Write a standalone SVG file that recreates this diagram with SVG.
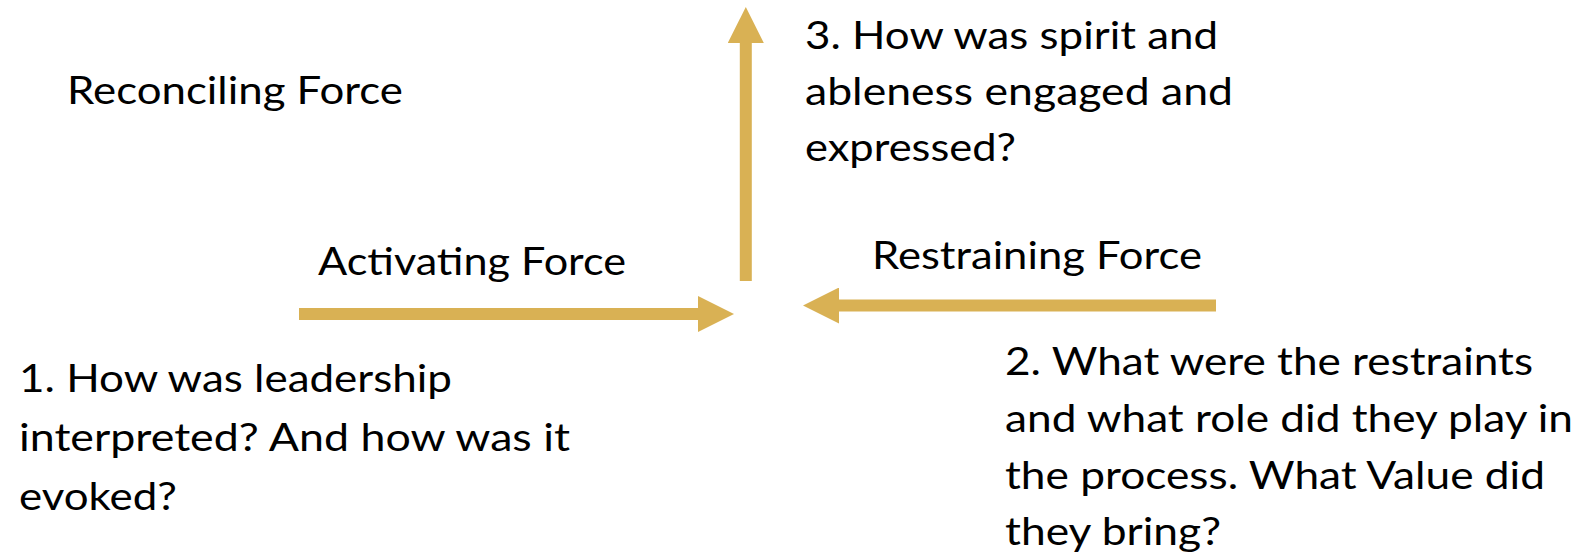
<svg xmlns="http://www.w3.org/2000/svg" width="1589" height="555" viewBox="0 0 1589 555">
  <style>
    .lbl { font-family: Lato, "Open Sans", "Liberation Sans", sans-serif; font-size: 39.5px; fill: #000000; }
    .force { fill: none; stroke: #D9B154; stroke-width: 12; stroke-linecap: butt; }
  </style>
  <defs>
    <marker id="head" viewBox="0 0 36 36" refX="0" refY="18" markerWidth="36" markerHeight="36" markerUnits="userSpaceOnUse" orient="auto">
      <path d="M0,0 L36,18 L0,36 Z" fill="#D9B154"/>
    </marker>
  </defs>
  <rect width="1589" height="555" fill="#ffffff"/>

  <!-- force arrows -->
  <g id="connectors">
    <line class="force" x1="299" y1="314" x2="698" y2="314" marker-end="url(#head)"/>
    <line class="force" x1="1216" y1="305.5" x2="839" y2="305.5" marker-end="url(#head)"/>
    <line class="force" x1="745.8" y1="281" x2="745.8" y2="43" marker-end="url(#head)"/>
  </g>

  <g id="reconciling-label">
    <text class="lbl" x="67" y="104" textLength="336" lengthAdjust="spacingAndGlyphs">Reconciling Force</text>
  </g>
  <g id="activating-label">
    <text class="lbl" x="318" y="275" textLength="308" lengthAdjust="spacingAndGlyphs">Activating Force</text>
  </g>
  <g id="restraining-label">
    <text class="lbl" x="872" y="269" textLength="330" lengthAdjust="spacingAndGlyphs">Restraining Force</text>
  </g>

  <g id="question-1">
    <text class="lbl" x="19" y="392" textLength="433" lengthAdjust="spacingAndGlyphs">1. How was leadership</text>
    <text class="lbl" x="19" y="451" textLength="551" lengthAdjust="spacingAndGlyphs">interpreted? And how was it</text>
    <text class="lbl" x="19" y="510" textLength="158" lengthAdjust="spacingAndGlyphs">evoked?</text>
  </g>

  <g id="question-2">
    <text class="lbl" x="1005" y="375" textLength="528" lengthAdjust="spacingAndGlyphs">2. What were the restraints</text>
    <text class="lbl" x="1005" y="432" textLength="568" lengthAdjust="spacingAndGlyphs">and what role did they play in</text>
    <text class="lbl" x="1005" y="489" textLength="540" lengthAdjust="spacingAndGlyphs">the process. What Value did</text>
    <text class="lbl" x="1005" y="545" textLength="216" lengthAdjust="spacingAndGlyphs">they bring?</text>
  </g>

  <g id="question-3">
    <text class="lbl" x="805" y="49" textLength="413" lengthAdjust="spacingAndGlyphs">3. How was spirit and</text>
    <text class="lbl" x="805" y="105" textLength="428" lengthAdjust="spacingAndGlyphs">ableness engaged and</text>
    <text class="lbl" x="805" y="161" textLength="211" lengthAdjust="spacingAndGlyphs">expressed?</text>
  </g>
</svg>
